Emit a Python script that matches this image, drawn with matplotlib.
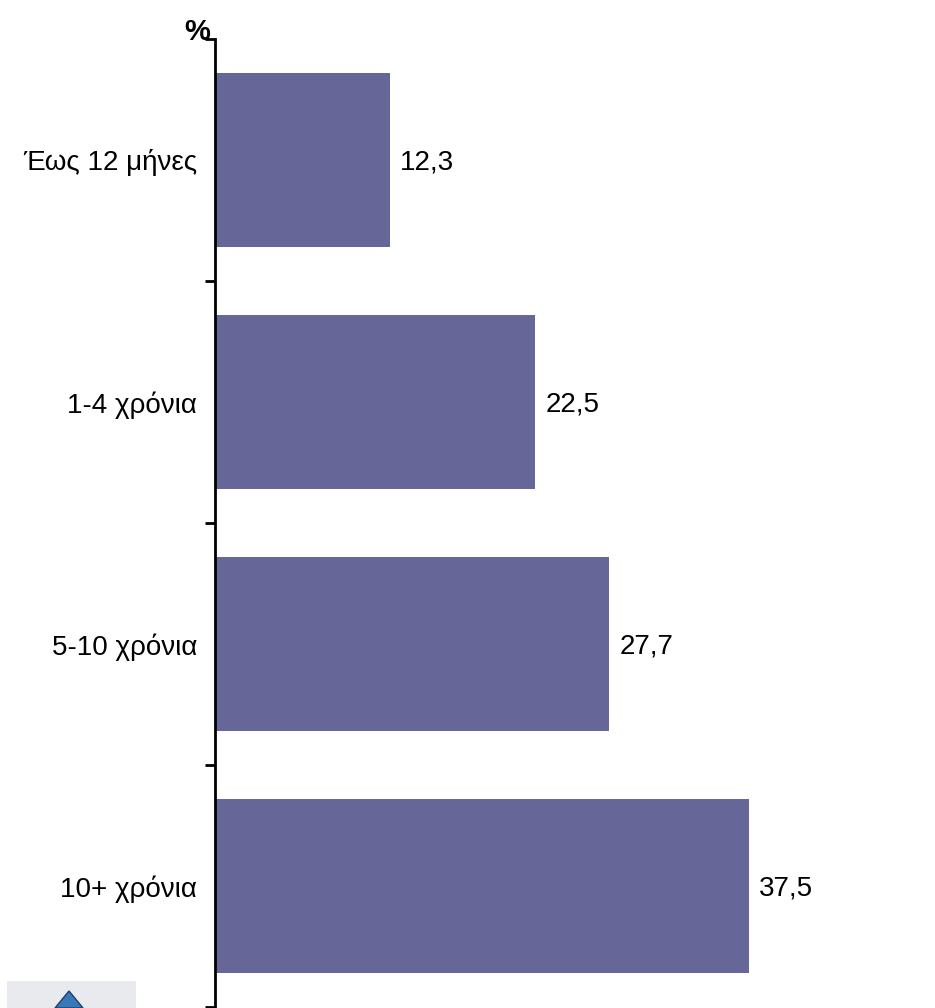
import matplotlib
matplotlib.use("Agg")
import matplotlib.pyplot as plt
from matplotlib.patches import Rectangle, Polygon

categories = ["Έως 12 μήνες", "1-4 χρόνια", "5-10 χρόνια", "10+ χρόνια"]
values = [12.3, 22.5, 27.7, 37.5]
value_labels = ["12,3", "22,5", "27,7", "37,5"]

plt.rcParams['font.family'] = ['Liberation Sans', 'DejaVu Sans']

W, H = 935, 1008
fig = plt.figure(figsize=(W / 100, H / 100), dpi=100)
ax_left = 215 / W
ax_bottom = 1 / H
ax_top = 39 / H
ax = fig.add_axes([ax_left, ax_bottom, 1 - ax_left, 1 - ax_bottom - ax_top])

px_per_unit = 14.24
xmax = (W - 215) / px_per_unit
ax.set_xlim(0, xmax)
ax.set_ylim(len(categories) - 0.5, -0.5)

y = list(range(len(categories)))
ax.barh(y, values, height=0.72, color="#666699", zorder=2)

for yi, v, lab in zip(y, values, value_labels):
    ax.text(v + 10 / px_per_unit, yi + 0.01, lab, va="center", ha="left", fontsize=20, color="black")

ax.set_yticks(y)
ax.set_yticklabels(categories, fontsize=20)
ax.set_yticks([i + 0.5 for i in range(-1, len(categories))], minor=True)
ax.tick_params(axis="y", which="major", length=0, pad=13)
ax.tick_params(axis="y", which="minor", length=7, width=2, direction="out")
ax.set_xticks([])

for s in ["top", "right", "bottom"]:
    ax.spines[s].set_visible(False)
ax.spines["left"].set_linewidth(2)

fig.text(210 / W, 1 - 40 / H, "%", ha="right", va="baseline", fontsize=21, fontweight="bold")

# faint logo fragment at bottom-left
fig.patches.append(Rectangle((7 / W, 0), 129 / W, 27 / H, transform=fig.transFigure,
                             facecolor="#e8eaee", edgecolor="none"))
fig.patches.append(Polygon([(55 / W, 0), (69 / W, 17 / H), (83 / W, 0)], closed=True,
                           transform=fig.transFigure, facecolor="#3a78b8", edgecolor="#1d3f6e"))

fig.savefig("out.png", dpi=100)
